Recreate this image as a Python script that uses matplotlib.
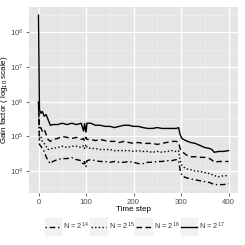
import numpy as np
import matplotlib
matplotlib.use("Agg")
import matplotlib.pyplot as plt
from matplotlib.legend_handler import HandlerLine2D
from matplotlib.patches import Rectangle
from matplotlib.lines import Line2D

plt.rcParams['font.family'] = ['Liberation Sans', 'DejaVu Sans']
plt.rcParams['mathtext.default'] = 'regular'

time_step = [0, 2, 5, 8, 12, 16, 20, 25, 30, 40, 50, 60, 70, 80, 90, 95, 97, 100, 102,
             110, 120, 130, 140, 150, 160, 170, 180, 190, 200, 210, 220, 230, 240, 250,
             260, 270, 280, 290, 295, 298, 302, 310, 320, 330, 340, 350, 360, 365, 370,
             380, 390, 400]

gain_n17 = [3.1e8, 6.0e5, 4.6e5, 5.3e5, 3.8e5, 4.3e5, 3.1e5, 2.1e5, 2.2e5, 2.2e5, 2.4e5,
            2.2e5, 2.4e5, 2.2e5, 2.4e5, 1.4e5, 2.4e5, 1.3e5, 2.4e5, 2.4e5, 2.1e5, 2.1e5,
            1.95e5, 1.95e5, 1.8e5, 1.95e5, 2.1e5, 2.1e5, 1.95e5, 1.95e5, 1.8e5, 1.7e5,
            1.7e5, 1.8e5, 1.7e5, 1.7e5, 1.7e5, 1.7e5, 1.8e5, 1.15e5, 8.7e4, 7.6e4, 6.7e4,
            6.3e4, 5.5e4, 4.8e4, 4.5e4, 4.2e4, 3.5e4, 3.7e4, 3.7e4, 3.9e4]

gain_n16 = [1.0e6, 1.7e5, 1.8e5, 1.4e5, 1.6e5, 1.15e5, 8.2e4, 7.2e4, 8.2e4, 8.7e4, 1.0e5,
            9.4e4, 8.7e4, 9.4e4, 8.2e4, 8.7e4, 7.2e4, 9.4e4, 8.2e4, 8.2e4, 7.6e4, 8.2e4,
            7.6e4, 7.2e4, 7.2e4, 6.7e4, 7.2e4, 6.7e4, 6.3e4, 6.7e4, 6.3e4, 6.3e4, 6.3e4,
            5.9e4, 6.3e4, 6.7e4, 7.2e4, 7.2e4, 6.7e4, 4.5e4, 3.7e4, 3.0e4, 2.6e4, 2.6e4,
            2.5e4, 2.5e4, 2.3e4, 2.1e4, 1.8e4, 1.9e4, 1.9e4, 1.9e4]

gain_n15 = [1.0e6, 8.7e4, 1.0e5, 7.2e4, 6.3e4, 5.2e4, 4.2e4, 4.5e4, 4.5e4, 4.8e4, 5.2e4,
            4.8e4, 5.2e4, 5.2e4, 4.8e4, 5.5e4, 4.5e4, 5.9e4, 4.8e4, 4.5e4, 4.5e4, 4.2e4,
            4.2e4, 4.2e4, 3.9e4, 3.9e4, 3.9e4, 3.9e4, 3.7e4, 3.9e4, 3.7e4, 3.7e4, 3.5e4,
            3.7e4, 3.5e4, 3.7e4, 3.9e4, 3.7e4, 3.9e4, 2.1e4, 1.45e4, 1.17e4, 1.1e4, 1.0e4,
            9.8e3, 9.1e3, 8.5e3, 8.0e3, 7.4e3, 6.9e3, 7.4e3, 7.4e3]

gain_n14 = [1.0e6, 5.9e4, 5.2e4, 4.5e4, 3.7e4, 2.6e4, 2.0e4, 1.65e4, 1.9e4, 2.15e4, 2.3e4,
            2.3e4, 2.45e4, 2.15e4, 2.0e4, 1.45e4, 1.9e4, 1.35e4, 2.0e4, 2.15e4, 2.0e4,
            1.9e4, 1.9e4, 1.8e4, 1.9e4, 1.8e4, 1.8e4, 1.9e4, 1.8e4, 1.65e4, 1.65e4, 1.8e4,
            1.8e4, 1.9e4, 1.9e4, 2.0e4, 2.0e4, 2.15e4, 2.0e4, 1.1e4, 7.4e3, 6.5e3, 6.0e3,
            5.6e3, 5.3e3, 5.0e3, 4.7e3, 4.4e3, 4.1e3, 4.1e3, 4.1e3, 4.4e3]

series_labels = ['N = $2^{14}$', 'N = $2^{15}$', 'N = $2^{16}$', 'N = $2^{17}$']
x_ticks = [0, 100, 200, 300, 400]
y_exponents = [4, 5, 6, 7, 8]

series = [gain_n14, gain_n15, gain_n16, gain_n17]
styles = [(0, (1, 2, 4, 2)), (0, (1, 1.6)), (0, (4, 2.5)), '-']

fig = plt.figure(figsize=(2.45, 2.45), dpi=100)
ax = fig.add_axes([29/245, 1-193/245, (238-29)/245, (193-7)/245])
ax.set_facecolor('#E5E5E5')

lines = []
for vals, ls, lab in zip(series, styles, series_labels):
    ln, = ax.plot(time_step, vals, color='black', lw=1.0, ls=ls, label=lab,
                  solid_joinstyle='miter')
    lines.append(ln)

ax.set_yscale('log')
ax.set_xlim(-20, 420)
ax.set_ylim(10**3.37, 10**8.73)
ax.set_xticks(x_ticks)
ax.set_xticklabels([str(t) for t in x_ticks])
ax.set_xticks([50, 150, 250, 350], minor=True)
ax.set_yticks([10.0**e for e in y_exponents])
ax.set_yticklabels(['$10^{%d}$' % e for e in y_exponents])
ax.set_yticks([10**(e + 0.5) for e in [3] + y_exponents], minor=True)
ax.yaxis.set_minor_formatter(plt.NullFormatter())

ax.grid(which='major', color='white', lw=0.9)
ax.grid(which='minor', color='#F2F2F2', lw=0.4)
ax.set_axisbelow(True)
for s in ax.spines.values():
    s.set_visible(False)
ax.tick_params(which='major', length=2.5, width=0.6, color='#4D4D4D',
               labelsize=5.6, labelcolor='#4D4D4D', pad=1.5)
ax.tick_params(which='minor', length=0)

ax.set_xlabel('Time step', fontsize=5.8, labelpad=0.5)
ax.set_ylabel('Gain factor ( log$_{10}$ scale)', fontsize=5.8)
ax.yaxis.set_label_coords(-19/209, 0.5)


class KeyHandler(HandlerLine2D):
    def create_artists(self, legend, orig_handle, xdescent, ydescent, width,
                       height, fontsize, trans):
        pad_y = 5
        rect = Rectangle((-xdescent - 1, -ydescent - pad_y), width + 2, height + 2 * pad_y,
                         facecolor='#F2F2F2', edgecolor='white', lw=0.5,
                         transform=trans)
        arts = super().create_artists(legend, orig_handle, xdescent, ydescent,
                                      width, height, fontsize, trans)
        return [rect] + list(arts)


leg = fig.legend(handles=lines, labels=series_labels, loc='center',
                 bbox_to_anchor=(135/245, 1-226/245), ncol=4, frameon=False,
                 fontsize=5.4, handlelength=2.1, handletextpad=0.3,
                 columnspacing=0.2, borderpad=0,
                 handler_map={ln: KeyHandler() for ln in lines})
for t in leg.get_texts():
    t.set_color('#333333')

fig.savefig('out.png', dpi=100)
